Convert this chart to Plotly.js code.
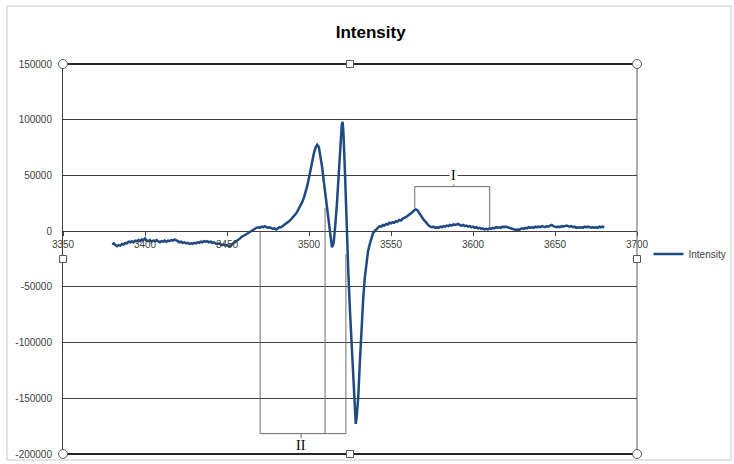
<!DOCTYPE html>
<html>
<head>
<meta charset="utf-8">
<script src="https://cdn.plot.ly/plotly-3.0.1.min.js"></script>
<style>html,body{margin:0;padding:0;background:#fff;}#chart{width:734px;height:464px;}</style>
</head>
<body>
<div id="chart"></div>
<script>
// Magnetic field (x) and intensity (y)
const field = [
3380,3381,3382,3383,3384,3385,3386,3387,3388,3389,3390,3391,3392,3393,3394,3395,3396,3397,3398,3399,
3400,3401,3402,3403,3404,3405,3406,3407,3408,3409,3410,3411,3412,3413,3414,3415,3416,3417,3418,3419,
3420,3421,3422,3423,3424,3425,3426,3427,3428,3429,3430,3431,3432,3433,3434,3435,3436,3437,3438,3439,
3440,3441,3442,3443,3444,3445,3446,3447,3448,3449,3450,3451,3452,3453,3454,3455,3456,3457,3458,3459,
3460,3461,3462,3463,3464,3465,3466,3467,3468,3469,3470,3471,3472,3473,3474,3475,3476,3477,3478,3479,
3480,3481,3482,3483,3484,3485,3486,3487,3488,3489,3490,3491,3492,3493,3494,3495,3496,3497,3498,3499,
3500,3501,3502,3503,3504,3505,3506,3507,3508,3509,3510,3511,3512,3513,3514,3515,3515.5,3516,3517,3518,
3519,3520,3520.5,3521,3522,3523,3524,3525,3526,3527,3528,3528.5,3529,3530,3531,3532,3533,3534,3535,3536,
3537,3538,3539,3540,3541,3542,3543,3544,3545,3546,3547,3548,3549,3550,3551,3552,3553,3554,3555,3556,
3557,3558,3559,3560,3561,3562,3563,3564,3565,3566,3567,3568,3569,3570,3571,3572,3573,3574,3575,3576,
3577,3578,3579,3580,3581,3582,3583,3584,3585,3586,3587,3588,3589,3590,3591,3592,3593,3594,3595,3596,
3597,3598,3599,3600,3601,3602,3603,3604,3605,3606,3607,3608,3609,3610,3611,3612,3613,3614,3615,3616,
3617,3618,3619,3620,3621,3622,3623,3624,3625,3626,3627,3628,3629,3630,3631,3632,3633,3634,3635,3636,
3637,3638,3639,3640,3641,3642,3643,3644,3645,3646,3647,3648,3649,3650,3651,3652,3653,3654,3655,3656,
3657,3658,3659,3660,3661,3662,3663,3664,3665,3666,3667,3668,3669,3670,3671,3672,3673,3674,3675,3676,
3677,3678,3679,3680
];
const intensity = [
-12000,-11000,-12500,-13500,-12500,-13000,-11500,-12000,-10500,-11000,-9500,-10000,-9000,-10000,-8500,-9000,-8000,-9000,-7500,-8000,
-6500,-8500,-9000,-8000,-9500,-8500,-9000,-8000,-9000,-10000,-9000,-9500,-8500,-9500,-8500,-9000,-8000,-8500,-7500,-8000,
-9000,-10000,-9500,-10500,-10000,-11000,-10500,-11500,-11000,-11500,-10500,-11000,-10000,-10500,-9500,-10000,-9000,-9500,-9000,-10000,
-9500,-10500,-10000,-11000,-11500,-11000,-12000,-12500,-12000,-13000,-12500,-13500,-13000,-12000,-11000,-10000,-8500,-7500,-6500,-5000,
-4500,-3500,-2500,-1500,-500,500,1500,2500,3000,3500,3000,4000,3500,4500,3500,3000,3500,2500,2000,2500,
1500,2500,3500,3500,4500,5500,6500,8000,9000,10500,12000,14000,15500,18000,20500,23000,26500,30500,35000,41000,
48000,56000,63500,70000,75000,77500,75500,68000,57500,45000,33000,19000,4000,-8000,-14500,-11000,-5000,5000,24000,50000,
78000,96000,98000,88000,50000,2000,-38000,-72000,-100000,-135000,-163000,-173000,-168000,-150000,-118000,-88000,-62000,-42000,-27000,-18000,
-12000,-7000,-2000,0,2000,3000,4500,4000,5500,5000,6500,6000,7500,7000,8000,7500,9000,8500,10000,9500,
11000,11500,12500,13500,14500,15500,17000,18500,19500,19000,16500,14500,12000,10000,8500,6500,5000,4000,3500,4000,
3000,3500,3000,4000,3500,4500,4000,5000,4500,5500,5000,6000,5500,6000,6500,5500,5000,5500,4500,5000,
4000,4500,3500,4000,3000,3500,2500,3000,2000,2500,1500,2000,1500,2500,2000,3000,2500,3500,3000,3500,
3000,4000,3500,4000,3500,3000,2500,2000,1500,1000,1500,1000,2000,2500,2000,3000,2500,3500,3000,3500,
3000,4000,3500,4000,3500,4500,4000,3500,4500,4000,5000,5500,4500,4000,3500,4000,3500,4500,4000,4500,
5000,4500,4000,4500,3500,4000,3000,3500,3000,3500,3000,4000,3500,4000,3500,3000,3500,3000,3500,3000,
4000,3500,4000,3500
];
const seriesName = "Intensity";
const chartTitle = "Intensity";
const yTickVals = [150000,100000,50000,0,-50000,-100000,-150000,-200000];
const yTickText = ["150000","100000","50000","0","-50000","-100000","-150000","-200000"];
const xTickVals = [3350,3400,3450,3500,3550,3600,3650,3700];
const xTickText = ["3350","3400","3450","3500","3550","3600","3650","3700"];
// bracket annotations (data coordinates)
const bracketI = {x: [3564.5, 3588.3, 3610.2], top: 40000, leftBottom: 20700, rightBottom: 3600, label: "I", labelY: 49500};
const bracketII = {x: [3470.2, 3509.8, 3522.5], bottom: -181700, tops: [-900, 20700, -20700], tickX: 3495.2, label: "II", labelY: -192500};

const gray = '#6e6e6e';
const shapes = [];
// bracket I
shapes.push({type:'line', xref:'x', yref:'y', x0:bracketI.x[0], x1:bracketI.x[2], y0:bracketI.top, y1:bracketI.top, line:{color:gray,width:1}});
shapes.push({type:'line', xref:'x', yref:'y', x0:bracketI.x[0], x1:bracketI.x[0], y0:bracketI.top, y1:bracketI.leftBottom, line:{color:gray,width:1}});
shapes.push({type:'line', xref:'x', yref:'y', x0:bracketI.x[2], x1:bracketI.x[2], y0:bracketI.top, y1:bracketI.rightBottom, line:{color:gray,width:1}});
shapes.push({type:'line', xref:'x', yref:'y', x0:bracketI.x[1], x1:bracketI.x[1], y0:bracketI.top, y1:45000, line:{color:gray,width:1}});
// bracket II
shapes.push({type:'line', xref:'x', yref:'y', x0:bracketII.x[0], x1:bracketII.x[2], y0:bracketII.bottom, y1:bracketII.bottom, line:{color:gray,width:1}});
for (let i=0;i<3;i++) shapes.push({type:'line', xref:'x', yref:'y', x0:bracketII.x[i], x1:bracketII.x[i], y0:bracketII.bottom, y1:bracketII.tops[i], line:{color:gray,width:1}});
shapes.push({type:'line', xref:'x', yref:'y', x0:bracketII.tickX, x1:bracketII.tickX, y0:bracketII.bottom, y1:-186000, line:{color:gray,width:1}});
// plot area top / bottom (selected) borders and side borders
shapes.push({type:'line', xref:'paper', yref:'paper', x0:0, x1:1, y0:1, y1:1, line:{color:'#262626',width:2}});
shapes.push({type:'line', xref:'paper', yref:'paper', x0:0, x1:1, y0:0, y1:0, line:{color:'#262626',width:2}});
shapes.push({type:'line', xref:'paper', yref:'paper', x0:1, x1:1, y0:0, y1:1, line:{color:'#595959',width:1}});
// chart area frame
shapes.push({type:'rect', xref:'paper', yref:'paper', x0:-0.0976, x1:1.1638, y0:-0.0154, y1:1.1487, line:{color:'#c8c8c8',width:1}, fillcolor:'rgba(0,0,0,0)'});
// selection handles
const circ = [[0,1],[1,1],[0,0],[1,0]];
circ.forEach(p => shapes.push({type:'circle', xref:'paper', yref:'paper', xsizemode:'pixel', ysizemode:'pixel', xanchor:p[0], yanchor:p[1], x0:-4.5, x1:4.5, y0:-4.5, y1:4.5, line:{color:'#595959',width:1}, fillcolor:'#ffffff'}));
const sq = [[0.5,1],[0.5,0],[0,0.5],[1,0.5]];
sq.forEach(p => shapes.push({type:'rect', xref:'paper', yref:'paper', xsizemode:'pixel', ysizemode:'pixel', xanchor:p[0], yanchor:p[1], x0:-3.5, x1:3.5, y0:-3.5, y1:3.5, line:{color:'#595959',width:1}, fillcolor:'#ffffff'}));

const annotations = [
  {x: bracketI.x[1], y: bracketI.labelY, xref:'x', yref:'y', text: bracketI.label, showarrow:false, bgcolor:'#ffffff', borderpad:1,
   font:{family:'Liberation Serif, DejaVu Serif, serif', size:14, color:'#000'}},
  {x: bracketII.tickX, y: bracketII.labelY, xref:'x', yref:'y', text: bracketII.label, showarrow:false,
   font:{family:'Liberation Serif, DejaVu Serif, serif', size:14, color:'#000'}}
];

const trace = {
  x: field, y: intensity, type:'scatter', mode:'lines', name: seriesName,
  line:{color:'#1f4a82', width:2.5}
};

const layout = {
  width:734, height:464,
  margin:{l:63, r:97, t:64, b:10, autoexpand:false},
  paper_bgcolor:'#ffffff', plot_bgcolor:'#ffffff',
  font:{family:'Liberation Sans, Arial, sans-serif', size:10, color:'#404040'},
  title:{text:chartTitle, x:0.505, xanchor:'center', y:0.93, yanchor:'middle',
         xref:'container', font:{family:'Liberation Sans, Arial, sans-serif', size:17, color:'#000', weight:'bold'}},
  xaxis:{range:[3350,3700], tickvals:xTickVals, ticktext:xTickText, anchor:'free', position:200000/350000,
         showline:true, linecolor:'#404040', linewidth:1, ticks:'outside', ticklen:4, tickcolor:'#404040',
         showgrid:false, zeroline:false, tickfont:{size:10, color:'#404040'}, automargin:false},
  yaxis:{range:[-200000,150000], tickvals:yTickVals, ticktext:yTickText, showline:true, linecolor:'#404040', linewidth:1,
         showgrid:true, gridcolor:'#404040', gridwidth:1, zeroline:false, ticks:'', ticklabelstandoff:8,
         tickfont:{size:10, color:'#404040'}, automargin:false},
  showlegend:true,
  legend:{x:1.02, y:0.513, xanchor:'left', yanchor:'middle', font:{size:10, color:'#404040'}, bgcolor:'rgba(0,0,0,0)'},
  shapes: shapes,
  annotations: annotations
};

Plotly.newPlot('chart', [trace], layout, {displayModeBar:false, staticPlot:true});
</script>
</body>
</html>
